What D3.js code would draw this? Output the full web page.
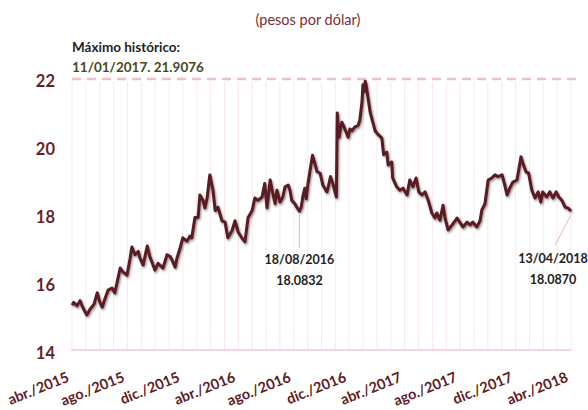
<!DOCTYPE html>
<html><head><meta charset="utf-8">
<script src="https://cdn.jsdelivr.net/npm/d3@7"></script>
<style>body{margin:0;background:#fff}svg{display:block}</style>
</head><body>
<svg id="c" width="588" height="410"></svg>
<script>
// ---- data ----
const dates = ["2015-04-01","2015-04-05","2015-04-12","2015-04-19","2015-04-25","2015-05-04","2015-05-11","2015-05-20","2015-05-27","2015-06-02","2015-06-07","2015-06-13","2015-06-20","2015-06-29","2015-07-05","2015-07-12","2015-07-17","2015-07-23","2015-08-01","2015-08-08","2015-08-12","2015-08-19","2015-08-26","2015-08-30","2015-09-06","2015-09-15","2015-09-21","2015-09-28","2015-10-02","2015-10-09","2015-10-13","2015-10-20","2015-10-29","2015-11-05","2015-11-09","2015-11-16","2015-11-20","2015-11-27","2015-12-03","2015-12-12","2015-12-19","2015-12-23","2015-12-30",
"2016-01-06","2016-01-10","2016-01-17","2016-01-21","2016-01-26","2016-02-01","2016-02-08","2016-02-13","2016-02-19","2016-02-28","2016-03-06","2016-03-12","2016-03-21","2016-03-28","2016-04-04","2016-04-12","2016-04-19","2016-04-26","2016-05-05","2016-05-11","2016-05-18","2016-05-27","2016-06-02","2016-06-07","2016-06-14","2016-06-20","2016-06-25","2016-06-29","2016-07-06","2016-07-12","2016-07-17","2016-07-24","2016-07-28","2016-08-01","2016-08-08","2016-08-12","2016-08-18","2016-08-22","2016-08-26","2016-08-30","2016-09-02","2016-09-06","2016-09-12","2016-09-16","2016-09-19","2016-09-26","2016-10-03","2016-10-09","2016-10-18","2016-10-21","2016-10-26","2016-10-31","2016-11-08","2016-11-10","2016-11-14","2016-11-17","2016-11-20","2016-11-27","2016-12-04","2016-12-08","2016-12-13","2016-12-19","2016-12-26","2016-12-30",
"2017-01-04","2017-01-06","2017-01-09","2017-01-11","2017-01-13","2017-01-17","2017-01-22","2017-01-26","2017-02-02","2017-02-08","2017-02-17","2017-02-21","2017-02-28","2017-03-03","2017-03-11","2017-03-13","2017-03-22","2017-03-29","2017-04-05","2017-04-14","2017-04-20","2017-04-27","2017-05-04","2017-05-10","2017-05-17","2017-05-24","2017-05-31","2017-06-08","2017-06-15","2017-06-19","2017-06-26","2017-07-03","2017-07-07","2017-07-14","2017-07-23","2017-08-03","2017-08-09","2017-08-16","2017-08-25","2017-09-01","2017-09-07","2017-09-16","2017-09-23","2017-09-27","2017-10-04","2017-10-11","2017-10-19","2017-10-26","2017-11-02","2017-11-11","2017-11-17","2017-11-22","2017-11-28","2017-12-05","2017-12-14","2017-12-23","2017-12-27",
"2018-01-03","2018-01-09","2018-01-16","2018-01-23","2018-01-30","2018-02-05","2018-02-09","2018-02-18","2018-02-25","2018-03-04","2018-03-11","2018-03-17","2018-03-24","2018-03-31","2018-04-06","2018-04-13"];
const values = [15.32,15.40,15.30,15.45,15.25,15.03,15.20,15.35,15.68,15.40,15.26,15.50,15.76,15.82,15.68,16.10,16.41,16.30,16.20,16.70,17.03,16.80,16.90,16.70,16.50,17.06,16.74,16.50,16.35,16.55,16.50,16.41,16.80,16.75,16.65,16.44,16.70,17.00,17.30,17.20,17.35,17.30,17.90,
17.90,18.56,18.40,18.18,18.47,19.15,18.70,18.10,18.20,17.80,17.76,17.30,17.50,17.80,17.47,17.30,17.18,17.90,18.10,18.47,18.40,18.50,18.90,18.18,19.00,18.60,18.30,18.70,18.35,18.50,18.80,18.85,18.70,18.40,18.30,18.20,18.0832,18.20,18.55,18.76,18.45,18.90,19.40,19.73,19.60,19.25,19.20,18.85,18.65,18.80,19.10,18.90,18.50,20.97,20.26,20.50,20.70,20.50,20.26,20.50,20.45,20.56,20.60,20.75,
21.30,21.80,21.60,21.9076,21.80,21.44,21.00,20.80,20.45,20.35,20.23,19.75,19.82,19.44,19.53,19.06,18.80,18.70,18.76,18.56,19.00,18.80,19.06,18.65,18.56,18.65,18.40,18.03,17.88,18.03,17.82,18.26,17.90,17.53,17.68,17.88,17.76,17.62,17.76,17.68,17.76,17.62,17.80,18.12,18.30,19.00,19.06,19.15,19.10,19.15,18.85,18.56,18.76,18.94,19.00,19.68,19.50,
19.24,19.20,18.70,18.47,18.65,18.35,18.65,18.50,18.65,18.47,18.65,18.50,18.40,18.20,18.18,18.087];
const yTicks = [14,16,18,20,22];
const xTickLabels = ["abr./2015","ago./2015","dic./2015","abr./2016","ago./2016","dic./2016","abr./2017","ago./2017","dic./2017","abr./2018"];
const monthsCount = 36;
const title = "(pesos por dólar)";
const maxNote = ["Máximo histórico:", "11/01/2017. 21.9076"];
const maxValue = 22;
const pointNotes = [
  {date:"2016-08-18", value:18.0832, lines:["18/08/2016","18.0832"]},
  {date:"2018-04-13", value:18.0870, lines:["13/04/2018","18.0870"]}
];

// ---- chart ----
const parse = d3.timeParse("%Y-%m-%d");
const data = dates.map((d,i)=>({date:parse(d), value:values[i]}));
const svg = d3.select("#c");
const L = 72, R = 571, T = 78, B = 350;
const x = d3.scaleTime().domain([parse("2015-04-01"), parse("2018-04-13")]).range([L, R]);
const m = d3.scaleLinear().domain([0, monthsCount]).range([L, R]);
const y = d3.scaleLinear().domain([14, 22]).range([B, T]);
const font = "Lato, 'Open Sans', sans-serif";

const defs = svg.append("defs");
const f = defs.append("filter").attr("id","sh").attr("x","-5%").attr("y","-5%").attr("width","110%").attr("height","110%");
f.append("feDropShadow").attr("dx",1).attr("dy",1.5).attr("stdDeviation",1.1).attr("flood-color","#000").attr("flood-opacity",0.45);

// monthly gridlines
svg.append("g").selectAll("line").data(d3.range(0, monthsCount+1)).join("line")
  .attr("x1", d=>m(d)).attr("x2", d=>m(d))
  .attr("y1", y(22)+4).attr("y2", B)
  .attr("stroke", "#f8e8ea").attr("stroke-width", 1);

// baseline
svg.append("line").attr("x1", L-1).attr("x2", R).attr("y1", B).attr("y2", B)
  .attr("stroke", "#f2c8cc").attr("stroke-width", 1.5);

// max dashed line
svg.append("line").attr("x1", L).attr("x2", 580).attr("y1", y(maxValue)+1).attr("y2", y(maxValue)+1)
  .attr("stroke", "#f1c0c4").attr("stroke-width", 2.5).attr("stroke-dasharray", "9,6");

// y labels
svg.append("g").selectAll("text").data(yTicks).join("text")
  .attr("x", 55).attr("y", d=>y(d)+8.5).attr("text-anchor","end")
  .attr("font-family", font).attr("font-weight","bold").attr("font-size", 16.5)
  .attr("fill", "#6b1f27").text(d=>d);

// x labels
svg.append("g").selectAll("text").data(xTickLabels).join("text")
  .attr("transform", (d,i)=>`translate(${m(i*4)-2},381) rotate(-22)`)
  .attr("text-anchor","end")
  .attr("font-family", font).attr("font-weight","bold").attr("font-size", 14.5)
  .attr("fill", "#5e1b22").text(d=>d);

// title
svg.append("text").attr("x", 308).attr("y", 25).attr("text-anchor","middle")
  .attr("font-family", font).attr("font-size", 14.5).attr("fill","#7b2d34").text(title);

// max note
svg.append("text").attr("x", 72).attr("y", 52)
  .attr("font-family", font).attr("font-weight","bold").attr("font-size", 13.5)
  .attr("fill","#1f1f1f").text(maxNote[0]);
svg.append("text").attr("x", 72).attr("y", 72)
  .attr("font-family", font).attr("font-weight","bold").attr("font-size", 13.5)
  .attr("fill","#4a4920").text(maxNote[1]);

// leader lines + notes
const noteOffsets = [{tx:0, lx:0, ly:248, ty:264}, {tx:-18, lx:-16, ly:245, ty:263}];
pointNotes.forEach((n,i)=>{
  const px = x(parse(n.date)), py = y(n.value);
  const o = noteOffsets[i];
  svg.append("line").attr("x1", px).attr("y1", py+4).attr("x2", px+o.lx).attr("y2", o.ly)
    .attr("stroke","#f0b3b8").attr("stroke-width",1);
  n.lines.forEach((t,j)=>{
    svg.append("text").attr("x", px+o.tx).attr("y", o.ty + j*20.5).attr("text-anchor","middle")
      .attr("font-family", font).attr("font-weight","bold").attr("font-size", 12.5)
      .attr("fill","#222").text(t);
  });
});

// line
svg.append("path").datum(data)
  .attr("d", d3.line().x(d=>x(d.date)).y(d=>y(d.value)))
  .attr("fill","none").attr("stroke","#5a1a20").attr("stroke-width",3)
  .attr("stroke-linejoin","round").attr("filter","url(#sh)");
</script>
</body></html>
